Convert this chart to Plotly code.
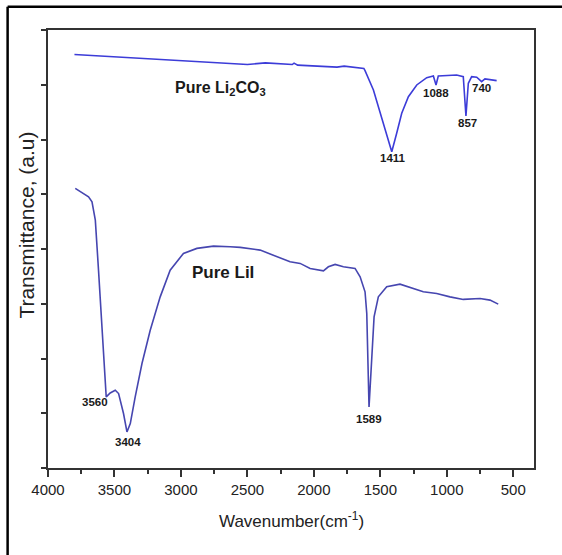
import plotly.graph_objects as go

# ---- data ----
wn_li2co3 = [3801, 2957, 2634, 2500, 2365, 2163, 2149, 2122, 1826, 1772, 1624, 1615, 1552, 1477,
             1414, 1377, 1339, 1289, 1226, 1151, 1101, 1081, 1064, 926, 876, 856, 838, 813, 775,
             738, 713, 625]
t_li2co3 = [7.552, 7.442, 7.400, 7.369, 7.400, 7.369, 7.395, 7.358, 7.322, 7.340, 7.298, 7.258,
            6.905, 6.296, 5.777, 6.113, 6.479, 6.782, 6.996, 7.130, 7.161, 6.996, 7.161, 7.179,
            7.148, 6.430, 7.027, 7.148, 7.137, 7.057, 7.106, 7.075]

wn_lii = [3795, 3757, 3732, 3695, 3669, 3644, 3620, 3594, 3577, 3562, 3532, 3494, 3469, 3432,
          3406, 3381, 3344, 3293, 3231, 3156, 3081, 2981, 2880, 2755, 2630, 2554, 2404, 2304,
          2179, 2103, 2028, 1928, 1891, 1840, 1778, 1690, 1652, 1615, 1602, 1585, 1564, 1547,
          1515, 1452, 1352, 1252, 1177, 1076, 976, 876, 750, 675, 613]
t_lii = [5.108, 5.046, 5.004, 4.954, 4.863, 4.528, 3.614, 2.517, 1.786, 1.298, 1.371, 1.420,
         1.360, 0.995, 0.658, 0.812, 1.298, 1.909, 2.517, 3.126, 3.614, 3.920, 4.011, 4.053,
         4.040, 4.029, 3.980, 3.889, 3.766, 3.737, 3.645, 3.601, 3.675, 3.718, 3.675, 3.645,
         3.492, 3.218, 2.823, 1.115, 1.909, 2.761, 3.126, 3.309, 3.358, 3.280, 3.218, 3.188,
         3.126, 3.079, 3.097, 3.066, 2.993]

peak_text = ["1411", "1088", "857", "740", "3560", "3404", "1589"]
peak_x = [1402, 1083, 846, 738, 3650, 3396, 1585]
peak_y = [5.656, 6.845, 6.296, 6.936, 1.207, 0.475, 0.903]

name_text = ["Pure Li<sub>2</sub>CO<sub>3</sub>", "Pure LiI"]
name_x = [2705, 2680]
name_y = [6.94, 3.58]

x_tickvals = [4000, 3500, 3000, 2500, 2000, 1500, 1000, 500]
x_ticktext = ["4000", "3500", "3000", "2500", "2000", "1500", "1000", "500"]

FONT = "Liberation Sans, Arial, sans-serif"

fig = go.Figure()
fig.add_trace(go.Scatter(x=wn_li2co3, y=t_li2co3, mode="lines",
                         line=dict(color="#3c3cd8", width=1.6), showlegend=False))
fig.add_trace(go.Scatter(x=wn_lii, y=t_lii, mode="lines",
                         line=dict(color="#4646b0", width=1.6), showlegend=False))

annotations = []
for t, x, y in zip(peak_text, peak_x, peak_y):
    annotations.append(dict(x=x, y=y, xref="x", yref="y", text=f"<b>{t}</b>",
                            showarrow=False, font=dict(family=FONT, size=11.5, color="#1a1a1a"),
                            xanchor="center", yanchor="middle"))
name_sizes = [16, 17]
for t, x, y, s in zip(name_text, name_x, name_y, name_sizes):
    annotations.append(dict(x=x, y=y, xref="x", yref="y", text=f"<b>{t}</b>",
                            showarrow=False, font=dict(family=FONT, size=s, color="#1a1a1a"),
                            xanchor="center", yanchor="middle"))
# axis titles
annotations.append(dict(x=0.5, y=-0.1195, xref="paper", yref="paper",
                        text="Wavenumber(cm<sup>-1</sup>)", showarrow=False,
                        font=dict(family=FONT, size=17, color="#222"),
                        xanchor="center", yanchor="middle"))
annotations.append(dict(x=-0.0447, y=0.554, xref="paper", yref="paper",
                        text="Transmittance, (a.u)", showarrow=False, textangle=-90,
                        font=dict(family=FONT, size=21, color="#222"),
                        xanchor="center", yanchor="middle"))

shapes = [
    dict(type="line", xref="paper", yref="paper", x0=-0.0831, x1=1.2, y0=1.0532, y1=1.0532,
         line=dict(color="black", width=2.5)),
    dict(type="line", xref="paper", yref="paper", x0=-0.0831, x1=-0.0831, y0=1.0532, y1=-0.3,
         line=dict(color="black", width=2.5)),
]

fig.update_layout(
    width=562, height=555,
    margin=dict(l=48, r=28, t=30, b=87),
    paper_bgcolor="white", plot_bgcolor="white",
    annotations=annotations, shapes=shapes,
    xaxis=dict(range=[4000, 344], showline=True, linecolor="#333", linewidth=2, mirror=True,
               ticks="outside", ticklen=7, tickwidth=1.5, tickcolor="#333",
               tickvals=x_tickvals, ticktext=x_ticktext,
               tickfont=dict(family=FONT, size=15, color="#222"),
               showgrid=False, zeroline=False,
               minor=dict(dtick=250, tick0=0, ticks="outside", ticklen=4, tickwidth=1.5,
                          tickcolor="#333", showgrid=False)),
    yaxis=dict(range=[0, 8], showline=True, linecolor="#333", linewidth=2, mirror=True,
               ticks="outside", ticklen=5, tickwidth=1.5, tickcolor="#333",
               dtick=1, tick0=0, showticklabels=False, showgrid=False, zeroline=False),
)

fig.write_html("out.html")
